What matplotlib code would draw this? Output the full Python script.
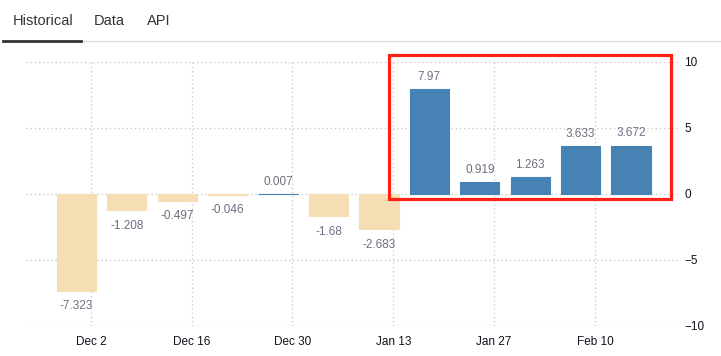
import datetime as dt
import matplotlib
matplotlib.use("Agg")
import matplotlib.pyplot as plt
import matplotlib.dates as mdates
from matplotlib.patches import Rectangle

plt.rcParams['font.family'] = ['Liberation Sans', 'DejaVu Sans']

# weekly values
fechas = [dt.date(2024, 11, 30) + dt.timedelta(days=7 * i) for i in range(12)]
valores = [-7.323, -1.208, -0.497, -0.046, 0.007, -1.68, -2.683,
           7.97, 0.919, 1.263, 3.633, 3.672]
etiquetas = ["-7.323", "-1.208", "-0.497", "-0.046", "0.007", "-1.68", "-2.683",
             "7.97", "0.919", "1.263", "3.633", "3.672"]
ticks = [dt.date(2024, 12, 2) + dt.timedelta(days=14 * i) for i in range(6)]
tick_labels = ["Dec 2", "Dec 16", "Dec 30", "Jan 13", "Jan 27", "Feb 10"]
yticks = [-10, -5, 0, 5, 10]

W, H = 721, 356
fig = plt.figure(figsize=(W / 100, H / 100), dpi=100)
ax = fig.add_axes([26 / W, 1 - 326 / H, (680 - 26) / W, (326 - 62) / H])

cores = ['#4682b4' if v > 0 else '#f5deb3' for v in valores]
ax.bar(fechas, valores, width=5.45, color=cores, edgecolor=cores, linewidth=0.8, zorder=2)

for d, v, t in zip(fechas, valores, etiquetas):
    if v >= 0:
        ax.annotate(t, (mdates.date2num(d), v), xytext=(0, 4.5), textcoords='offset points',
                    ha='center', va='bottom', fontsize=8.5, color='#6e6e80')
    else:
        ax.annotate(t, (mdates.date2num(d), v), xytext=(0, -7), textcoords='offset points',
                    ha='center', va='top', fontsize=8.5, color='#6e6e80')

ax.set_xlim(mdates.date2num(dt.date(2024, 11, 23)), mdates.date2num(dt.date(2024, 11, 23)) + 90.8)
ax.set_ylim(-10, 10)
ax.set_xticks(ticks)
ax.set_xticklabels(tick_labels)
ax.set_yticks(yticks)
ax.yaxis.tick_right()
ax.tick_params(length=0, labelsize=8.5, colors='#14101c')
ax.tick_params(axis='x', pad=7)
ax.tick_params(axis='y', pad=3)
ax.grid(True, linestyle=(0, (1, 2)), color='#cccccc', linewidth=1, zorder=0)
for s in ax.spines.values():
    s.set_visible(False)

# tabs header
fig.text(13 / W, 1 - 21 / H, "Historical", fontsize=10.5, color='#333333', va='center')
fig.text(94 / W, 1 - 21 / H, "Data", fontsize=10.5, color='#333333', va='center')
fig.text(147 / W, 1 - 21 / H, "API", fontsize=10.5, color='#333333', va='center')
fig.add_artist(plt.Line2D([81 / W, 1], [1 - 41 / H] * 2, color='#dddddd', linewidth=1))
fig.add_artist(plt.Line2D([3 / W, 81 / W], [1 - 41 / H] * 2, color='#333333', linewidth=2))

# red highlight box
fig.add_artist(Rectangle((389 / W, 1 - 199 / H), (671 - 389) / W, (199 - 55) / H,
                         fill=False, edgecolor='#ff2016', linewidth=2.3,
                         transform=fig.transFigure))

fig.savefig("out.png", dpi=100)
